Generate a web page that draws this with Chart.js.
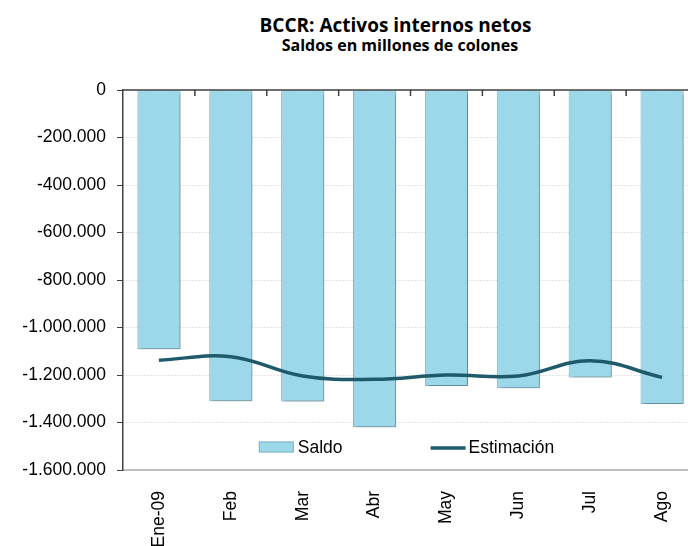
<!DOCTYPE html>
<html>
<head>
<meta charset="utf-8">
<script src="https://cdn.jsdelivr.net/npm/chart.js@4"></script>
<style>
  body { margin: 0; overflow: hidden; background: #fff; }
  #wrap { position: relative; width: 688px; height: 546px; overflow: hidden; }
  #chart { position: absolute; left: 0; top: 0; }
  .title { position: absolute; left: 0; text-align: center; font-family: "Open Sans", Lato, sans-serif; font-weight: bold; color: #000; white-space: nowrap; }
  #t1 { top: 12px; width: 791px; font-size: 19px; }
  #t2 { top: 34px; width: 800px; font-size: 16px; }
</style>
</head>
<body>
<div id="wrap">
  <div class="title" id="t1">BCCR: Activos internos netos</div>
  <div class="title" id="t2">Saldos en millones de colones</div>
  <canvas id="chart" width="700" height="546"></canvas>
</div>
<script>
const months = ["Ene-09", "Feb", "Mar", "Abr", "May", "Jun", "Jul", "Ago"];
const saldo = [-1092000, -1310000, -1312000, -1420000, -1246000, -1256000, -1210000, -1322000];
const estimacion = [-1138000, -1123000, -1204000, -1218000, -1200000, -1204000, -1140000, -1210000];
const yTicks = [0, -200000, -400000, -600000, -800000, -1000000, -1200000, -1400000, -1600000];

const barColor = "#9dd8ea";
const lineColor = "#1f5a6b";
const labelFont = { family: "'Liberation Sans', Arial, sans-serif", size: 17.5 };

function fmt(v) {
    const s = String(Math.abs(v)).replace(/\B(?=(\d{3})+(?!\d))/g, ".");
    return (v < 0 ? "-" : "") + s;
}

// soft shadow under the bars
const barShadow = {
    id: "barShadow",
    beforeDatasetDraw(chart, args) {
        if (args.index !== 0) return;
        const ctx = chart.ctx;
        ctx.save();
        ctx.shadowColor = "rgba(0,0,0,0.35)";
        ctx.shadowBlur = 4;
        ctx.shadowOffsetX = 2;
        ctx.shadowOffsetY = 2;
    },
    afterDatasetDraw(chart, args) {
        if (args.index !== 0) return;
        chart.ctx.restore();
    }
};

// category axis at the zero line + legend inside the plot
const extras = {
    id: "extras",
    afterDatasetsDraw(chart) {
        const ctx = chart.ctx;
        const area = chart.chartArea;
        const x = chart.scales.x;
        const y0 = chart.scales.y.getPixelForValue(0);
        ctx.save();
        ctx.strokeStyle = "#404040";
        ctx.lineWidth = 1.5;
        ctx.beginPath();
        ctx.moveTo(area.left, y0);
        ctx.lineTo(area.right, y0);
        for (let i = 1; i < months.length; i++) {
            const px = (x.getPixelForValue(i - 1) + x.getPixelForValue(i)) / 2;
            ctx.moveTo(px, y0);
            ctx.lineTo(px, y0 + 6);
        }
        ctx.stroke();

        // legend
        ctx.font = labelFont.size + "px " + labelFont.family;
        ctx.textBaseline = "middle";
        ctx.fillStyle = "#000";
        const items = chart.data.datasets.map(d => d.label);
        const w0 = ctx.measureText(items[0]).width;
        const w1 = ctx.measureText(items[1]).width;
        const total = 35 + 4 + w0 + 88 + 35 + 3 + w1;
        let lx = (area.left + area.right) / 2 - total / 2 - 4;
        const ly = area.bottom - 23;
        ctx.fillStyle = barColor;
        ctx.strokeStyle = "#7fb6c6";
        ctx.lineWidth = 1;
        ctx.fillRect(lx, ly - 5.5, 35, 11);
        ctx.strokeRect(lx + 0.5, ly - 5, 34, 10);
        ctx.fillStyle = "#000";
        ctx.fillText(items[0], lx + 39, ly + 1);
        lx += 39 + w0 + 88;
        ctx.strokeStyle = lineColor;
        ctx.lineWidth = 3.5;
        ctx.beginPath();
        ctx.moveTo(lx, ly + 1);
        ctx.lineTo(lx + 35, ly + 1);
        ctx.stroke();
        ctx.fillText(items[1], lx + 38, ly + 1);
        ctx.restore();
    }
};

new Chart(document.getElementById("chart"), {
    data: {
        labels: months,
        datasets: [
            {
                type: "bar",
                label: "Saldo",
                data: saldo,
                backgroundColor: barColor,
                borderColor: "#84bfd0",
                borderWidth: 1,
                categoryPercentage: 0.6,
                barPercentage: 1,
                order: 2
            },
            {
                type: "line",
                label: "Estimación",
                data: estimacion,
                borderColor: lineColor,
                borderWidth: 3.5,
                tension: 0.4,
                pointRadius: 0,
                fill: false,
                order: 1
            }
        ]
    },
    options: {
        responsive: false,
        animation: false,
        layout: { padding: { top: 90, right: 2, left: 0, bottom: 0 } },
        plugins: {
            legend: { display: false },
            title: { display: false },
            tooltip: { enabled: false }
        },
        scales: {
            x: {
                offset: true,
                grid: { display: false },
                border: { color: "#bfbfbf", width: 2 },
                ticks: {
                    color: "#000",
                    font: labelFont,
                    minRotation: 90,
                    maxRotation: 90,
                    padding: 13
                },
                afterFit(scale) { scale.height = 76; }
            },
            y: {
                min: -1600000,
                max: 0,
                afterBuildTicks(scale) { scale.ticks = yTicks.map(v => ({ value: v })); },
                grid: {
                    color: "#c8c8c8",
                    tickColor: "#404040",
                    tickLength: 6,
                    lineWidth: 1
                },
                border: { color: "#404040", width: 1.5, dash: [1, 2] },
                ticks: {
                    color: "#000",
                    font: labelFont,
                    padding: 11,
                    callback: v => fmt(v)
                },
                afterFit(scale) { scale.width = 123; }
            }
        }
    },
    plugins: [barShadow, extras]
});
</script>
</body>
</html>
